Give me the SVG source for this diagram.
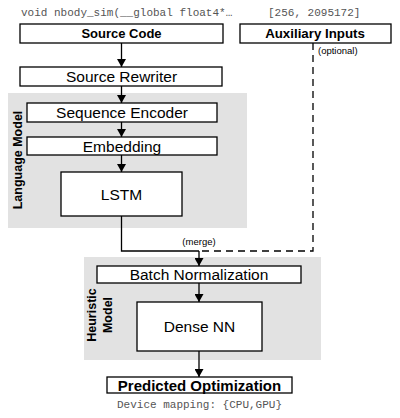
<svg xmlns="http://www.w3.org/2000/svg" width="400" height="418" viewBox="0 0 400 418">
<defs>
<marker id="ah" markerUnits="userSpaceOnUse" markerWidth="8" markerHeight="9" viewBox="0 0 8 9" refX="8" refY="4.5" orient="auto">
<path d="M0,0 L8,4.5 L0,9 Z" fill="#000"/>
</marker>
<style>
.grp{fill:#e2e2e2;stroke:none}
.box{fill:#fff;stroke:#000;stroke-width:1.3}
.lbl{font-family:"Liberation Sans",Arial,sans-serif;font-size:15.5px;fill:#000;text-anchor:middle}
.bold{font-family:"Liberation Sans",Arial,sans-serif;font-weight:bold;fill:#000;text-anchor:middle}
.code{font-family:"Liberation Mono","Courier New",monospace;font-size:11px;fill:#555}
.small{font-family:"Liberation Sans",Arial,sans-serif;font-size:9.5px;fill:#000}
.ln{stroke:#000;stroke-width:1.3;fill:none}
.dash{stroke:#000;stroke-width:1.3;fill:none;stroke-dasharray:7,5}
.arr{stroke:#000;stroke-width:1.3;fill:none;marker-end:url(#ah)}
</style>
</defs>

<text class="code" x="21" y="16">void nbody_sim(__global float4*…</text>
<text class="code" x="268" y="16">[256, 2095172]</text>

<g id="language-model">
<rect class="grp" x="8" y="93" width="239" height="135"/>
<text class="bold" font-size="12.5" transform="translate(22,160) rotate(-90)">Language Model</text>
</g>
<g id="heuristic-model">
<rect class="grp" x="84" y="257" width="237" height="103"/>
<text class="bold" font-size="12.5" transform="translate(96,315) rotate(-90)">Heuristic</text>
<text class="bold" font-size="12.5" transform="translate(112,315) rotate(-90)">Model</text>
</g>

<g id="connectors">
<line class="arr" x1="121.5" y1="43" x2="121.5" y2="67"/>
<line class="arr" x1="121.5" y1="86" x2="121.5" y2="103"/>
<line class="arr" x1="121.5" y1="122" x2="121.5" y2="137"/>
<line class="arr" x1="121.5" y1="155" x2="121.5" y2="172"/>
<polyline class="ln" points="121.5,216 121.5,251 199,251"/>
<polyline class="dash" points="313,43 313,251 199,251"/>
<line class="arr" x1="199" y1="251" x2="199" y2="266"/>
<line class="arr" x1="199" y1="283" x2="199" y2="302"/>
<line class="arr" x1="199" y1="351" x2="199" y2="377"/>
<text class="small" x="318" y="54">(optional)</text>
<text class="small" x="199" y="245" text-anchor="middle">(merge)</text>
</g>

<g id="source-code">
<rect class="box" x="20" y="24" width="203" height="19"/>
<text class="bold" font-size="13" x="121.5" y="38">Source Code</text>
</g>
<g id="auxiliary-inputs">
<rect class="box" x="240" y="24" width="151" height="19"/>
<text class="bold" font-size="13.3" x="315" y="38">Auxiliary Inputs</text>
</g>
<g id="source-rewriter">
<rect class="box" x="20" y="67" width="202" height="19"/>
<text class="lbl" x="121.5" y="82">Source Rewriter</text>
</g>
<g id="sequence-encoder">
<rect class="box" x="27" y="103" width="190" height="19"/>
<text class="lbl" x="122" y="118">Sequence Encoder</text>
</g>
<g id="embedding">
<rect class="box" x="27" y="137" width="190" height="18"/>
<text class="lbl" x="122" y="151.5">Embedding</text>
</g>
<g id="lstm">
<rect class="box" x="61" y="172" width="121" height="44"/>
<text class="lbl" x="121.5" y="199.5">LSTM</text>
</g>
<g id="batch-normalization">
<rect class="box" x="97" y="266" width="204" height="17"/>
<text class="lbl" font-size="15" x="199" y="280">Batch Normalization</text>
</g>
<g id="dense-nn">
<rect class="box" x="137" y="302" width="125" height="49"/>
<text class="lbl" x="199.5" y="332">Dense NN</text>
</g>
<g id="predicted-optimization">
<rect class="box" x="107" y="377" width="185" height="16"/>
<text class="bold" font-size="15" x="199.5" y="390.5">Predicted Optimization</text>
</g>
<text class="code" x="199.5" y="408" text-anchor="middle">Device mapping: {CPU,GPU}</text>
</svg>
